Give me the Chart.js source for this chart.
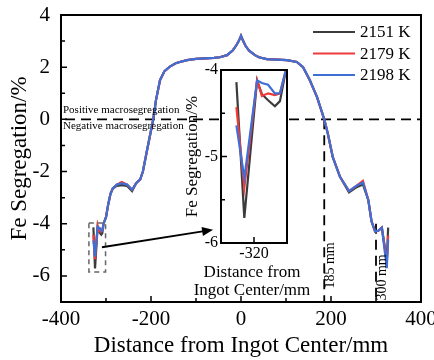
<!DOCTYPE html>
<html>
<head>
<meta charset="utf-8">
<script src="https://cdn.jsdelivr.net/npm/chart.js@4.4.1/dist/chart.umd.min.js"></script>
<style>
  body { margin: 0; background: #fff; }
  #wrap { position: relative; width: 434px; height: 360px; }
  #mainChart { position: absolute; left: 0; top: 0; }
  #insetChart { position: absolute; left: 180px; top: 60px; }
</style>
</head>
<body>
<div id="wrap">
  <canvas id="mainChart" width="434" height="360"></canvas>
  <canvas id="insetChart" width="135" height="245"></canvas>
</div>
<script>
// DATA (distance in mm, Fe segregation in %)
const distance = [-328, -324.4, -318.6, -316.4, -313.6, -310.5, -308.2, -305.5, -300, -295, -290, -285, -276, -265, -253, -242,
  -233, -224, -218, -209, -202, -195, -189, -180, -170, -158, -145, -136, -120, -100, -80, -60, -47, -31, -18, -10, -5, 0,
  5, 10, 18, 31, 40, 57, 80, 102, 124, 138, 153, 169, 185, 193, 204, 220, 235, 240, 257, 271, 283, 290, 298, 305, 313, 324, 327];

const seg2151 = [-4.14, -5.71, -4.12, -4.28, -4.35, -4.42, -4.36, -4.0, -3.75, -3.25, -2.85, -2.65, -2.55, -2.52, -2.55, -2.75,
  -2.45, -2.3, -2.0, -1.2, -0.6, 0, 0.73, 1.5, 1.85, 2.02, 2.15, 2.2, 2.27, 2.32, 2.34, 2.36, 2.38, 2.46, 2.65, 2.85, 3.0, 3.2,
  3.0, 2.82, 2.63, 2.46, 2.38, 2.31, 2.29, 2.27, 2.2, 2.0, 1.5, 0.85, 0, -0.55, -1.45, -2.2, -2.65, -2.8, -2.6, -2.5, -3.1, -3.9, -4.3, -4.27, -4.15, -5.4, -4.15];

const seg2179 = [-4.43, -5.36, -4.12, -4.30, -4.27, -4.29, -4.27, -4.0, -3.75, -3.25, -2.85, -2.65, -2.5, -2.4, -2.5, -2.7,
  -2.45, -2.3, -2.0, -1.2, -0.6, 0, 0.73, 1.5, 1.85, 2.02, 2.15, 2.2, 2.27, 2.32, 2.34, 2.36, 2.38, 2.46, 2.65, 2.85, 3.0, 3.2,
  3.0, 2.82, 2.63, 2.46, 2.38, 2.31, 2.29, 2.27, 2.2, 2.0, 1.5, 0.85, 0, -0.55, -1.45, -2.2, -2.6, -2.75, -2.54, -2.36, -3.1, -3.9, -4.3, -4.27, -4.15, -5.5, -4.45];

const seg2198 = [-4.64, -5.25, -4.12, -4.15, -4.17, -4.27, -4.27, -4.0, -3.75, -3.25, -2.85, -2.65, -2.5, -2.45, -2.5, -2.7,
  -2.45, -2.3, -2.0, -1.2, -0.6, 0, 0.73, 1.5, 1.85, 2.02, 2.15, 2.2, 2.27, 2.32, 2.34, 2.36, 2.38, 2.46, 2.65, 2.85, 3.0, 3.2,
  3.0, 2.82, 2.63, 2.46, 2.38, 2.31, 2.29, 2.27, 2.2, 2.0, 1.5, 0.85, 0, -0.55, -1.45, -2.2, -2.6, -2.75, -2.54, -2.42, -3.1, -3.9, -4.3, -4.27, -4.15, -5.7, -4.6];

const seriesLabels = ['2151 K', '2179 K', '2198 K'];
const seriesColors = ['#3c3c3c', '#f03a3a', '#3f6fd6'];

const xTicksMain = [-400, -200, 0, 200, 400];
const xMinorMain = [-300, -100, 100, 300];
const yTicksMain = [-6, -4, -2, 0, 2, 4];
const yMinorMain = [-5, -3, -1, 1, 3];

const xTicksInset = [-320];
const yTicksInset = [-6, -5, -4];
const yMinorInset = [-5.5, -4.5];

const markerX = [185, 300];
const markerTop = [0, -4.0];
const markerText = ['185 mm', '300 mm'];
const markerTextY = [-5.6, -6.06];

const insetXTitle = ['Distance from', 'Ingot Center/mm'];

const FONT = "'Liberation Serif', 'Times New Roman', serif";
Chart.defaults.font.family = FONT;
Chart.defaults.color = '#000';

function makeDatasets() {
  const all = [seg2151, seg2179, seg2198];
  return all.map((vals, i) => ({
    label: seriesLabels[i],
    data: distance.map((d, k) => ({x: d, y: vals[k]})),
    borderColor: seriesColors[i],
    borderWidth: 2.2,
    pointRadius: 0,
    tension: 0,
    order: 2 - i
  }));
}

// INWARD TICKS + FRAME
function drawFrameAndTicks(chart, xMajor, xMinor, yMajor, yMinor) {
  const {ctx, chartArea: a, scales: {x, y}} = chart;
  ctx.save();
  ctx.strokeStyle = '#000';
  ctx.lineWidth = 1.5;
  ctx.beginPath();
  xMajor.forEach(v => { const p = x.getPixelForValue(v); ctx.moveTo(p, a.bottom); ctx.lineTo(p, a.bottom - 6); });
  xMinor.forEach(v => { const p = x.getPixelForValue(v); ctx.moveTo(p, a.bottom); ctx.lineTo(p, a.bottom - 4); });
  yMajor.forEach(v => { const p = y.getPixelForValue(v); ctx.moveTo(a.left, p); ctx.lineTo(a.left + 6, p); });
  yMinor.forEach(v => { const p = y.getPixelForValue(v); ctx.moveTo(a.left, p); ctx.lineTo(a.left + 4, p); });
  ctx.stroke();
  ctx.lineWidth = 2;
  ctx.strokeRect(a.left, a.top, a.right - a.left, a.bottom - a.top);
  ctx.restore();
}

// MAIN CHART DECORATIONS
const mainDecor = {
  id: 'mainDecor',
  beforeDatasetsDraw(chart) {
    const {ctx, chartArea: a, scales: {x, y}} = chart;
    ctx.save();
    ctx.strokeStyle = '#000';
    ctx.lineWidth = 1.8;
    ctx.setLineDash([10, 6]);
    ctx.beginPath();
    ctx.moveTo(a.left + 4, y.getPixelForValue(0));
    ctx.lineTo(a.right, y.getPixelForValue(0));
    markerX.forEach((m, i) => {
      ctx.moveTo(x.getPixelForValue(m), y.getPixelForValue(markerTop[i]));
      ctx.lineTo(x.getPixelForValue(m), a.bottom);
    });
    ctx.stroke();
    ctx.restore();
  },
  afterDatasetsDraw(chart) {
    const {ctx, chartArea: a, scales: {x, y}} = chart;
    drawFrameAndTicks(chart, xTicksMain, xMinorMain, yTicksMain, yMinorMain);
    ctx.save();
    ctx.fillStyle = '#000';

    // positive / negative labels
    const y0 = y.getPixelForValue(0);
    ctx.font = '11px ' + FONT;
    ctx.textAlign = 'left';
    ctx.textBaseline = 'alphabetic';
    ctx.fillText('Positive macrosegregation', a.left + 2, y0 - 6.5);
    ctx.fillText('Negative macrosegregation', a.left + 2, y0 + 10);

    // rotated marker labels
    ctx.font = '14px ' + FONT;
    ctx.textAlign = 'center';
    ctx.textBaseline = 'middle';
    markerX.forEach((m, i) => {
      ctx.save();
      ctx.translate(x.getPixelForValue(m) + 6.5, y.getPixelForValue(markerTextY[i]));
      ctx.rotate(-Math.PI / 2);
      ctx.fillText(markerText[i], 0, 0);
      ctx.restore();
    });

    // zoom box
    ctx.strokeStyle = '#666';
    ctx.lineWidth = 1.5;
    ctx.setLineDash([5, 4]);
    const bx1 = x.getPixelForValue(-338), bx2 = x.getPixelForValue(-301);
    const by1 = y.getPixelForValue(-3.97), by2 = y.getPixelForValue(-5.85);
    ctx.strokeRect(bx1, by1, bx2 - bx1, by2 - by1);
    ctx.setLineDash([]);

    // arrow
    const ax1 = x.getPixelForValue(-309), ay1 = y.getPixelForValue(-4.9);
    const ax2 = x.getPixelForValue(-62), ay2 = y.getPixelForValue(-4.23);
    const ang = Math.atan2(ay2 - ay1, ax2 - ax1);
    ctx.strokeStyle = '#000';
    ctx.lineWidth = 2;
    ctx.beginPath();
    ctx.moveTo(ax1, ay1);
    ctx.lineTo(ax2 - 9 * Math.cos(ang), ay2 - 9 * Math.sin(ang));
    ctx.stroke();
    ctx.beginPath();
    ctx.moveTo(ax2, ay2);
    ctx.lineTo(ax2 - 11 * Math.cos(ang) + 4.5 * Math.sin(ang), ay2 - 11 * Math.sin(ang) - 4.5 * Math.cos(ang));
    ctx.lineTo(ax2 - 11 * Math.cos(ang) - 4.5 * Math.sin(ang), ay2 - 11 * Math.sin(ang) + 4.5 * Math.cos(ang));
    ctx.closePath();
    ctx.fill();

    // legend
    ctx.font = '17px ' + FONT;
    ctx.textAlign = 'left';
    ctx.textBaseline = 'middle';
    chart.data.datasets.forEach((ds, i) => {
      const ry = a.top + 17 + i * 21.5;
      ctx.strokeStyle = ds.borderColor;
      ctx.lineWidth = 2;
      ctx.beginPath();
      ctx.moveTo(a.right - 108, ry);
      ctx.lineTo(a.right - 66, ry);
      ctx.stroke();
      ctx.fillText(ds.label, a.right - 61, ry + 1);
    });
    ctx.restore();
  }
};

// INSET DECORATIONS
const insetDecor = {
  id: 'insetDecor',
  beforeDraw(chart) {
    const {ctx, chartArea: a} = chart;
    ctx.save();
    ctx.fillStyle = '#fff';
    ctx.fillRect(a.left, a.top, a.right - a.left, a.bottom - a.top);
    ctx.restore();
  },
  afterDatasetsDraw(chart) {
    const {ctx, chartArea: a} = chart;
    drawFrameAndTicks(chart, xTicksInset, [], yTicksInset, yMinorInset);
    ctx.save();
    ctx.fillStyle = '#000';
    ctx.font = '17px ' + FONT;
    ctx.textAlign = 'center';
    ctx.textBaseline = 'alphabetic';
    const cx = (a.left + a.right) / 2 - 2;
    insetXTitle.forEach((t, i) => ctx.fillText(t, cx, a.bottom + 34 + i * 18));
    ctx.restore();
  }
};

// MAIN CHART
new Chart(document.getElementById('mainChart'), {
  type: 'line',
  data: {datasets: makeDatasets()},
  options: {
    responsive: false,
    animation: false,
    devicePixelRatio: 1,
    layout: {padding: {top: 15, right: 13, bottom: 0, left: 0}},
    plugins: {legend: {display: false}, tooltip: {enabled: false}},
    scales: {
      x: {
        type: 'linear', min: -400, max: 400,
        grid: {display: false, drawTicks: false},
        border: {display: false},
        afterBuildTicks: s => { s.ticks = xTicksMain.map(v => ({value: v})); },
        afterFit: s => { s.height = 58; s.paddingLeft = 0; s.paddingRight = 0; },
        ticks: {font: {size: 21}, padding: 5, maxRotation: 0, autoSkip: false, callback: v => String(v)},
        title: {display: true, text: 'Distance from Ingot Center/mm', font: {size: 23, lineHeight: 1}, padding: {top: 0, bottom: 2.5}}
      },
      y: {
        type: 'linear', min: -7, max: 4,
        grid: {display: false, drawTicks: false},
        border: {display: false},
        afterBuildTicks: s => { s.ticks = yTicksMain.map(v => ({value: v})); },
        afterFit: s => { s.width = 61; s.paddingTop = 0; s.paddingBottom = 0; },
        ticks: {font: {size: 21}, padding: 11, callback: v => String(v)},
        title: {display: true, text: 'Fe Segregation/%', font: {size: 23, lineHeight: 1}, padding: {top: 8, bottom: 0}}
      }
    }
  },
  plugins: [mainDecor]
});

// INSET CHART
new Chart(document.getElementById('insetChart'), {
  type: 'line',
  data: {datasets: makeDatasets()},
  options: {
    responsive: false,
    animation: false,
    devicePixelRatio: 1,
    layout: {padding: {top: 10, right: 28, bottom: 0, left: 0}},
    plugins: {legend: {display: false}, tooltip: {enabled: false}},
    scales: {
      x: {
        type: 'linear', min: -335, max: -305,
        grid: {display: false, drawTicks: false},
        border: {display: false},
        afterBuildTicks: s => { s.ticks = xTicksInset.map(v => ({value: v})); },
        afterFit: s => { s.height = 62; s.paddingLeft = 0; s.paddingRight = 0; },
        ticks: {font: {size: 16, lineHeight: 1}, padding: 2.5, maxRotation: 0, autoSkip: false, callback: v => String(v)}
      },
      y: {
        type: 'linear', min: -6, max: -4,
        grid: {display: false, drawTicks: false},
        border: {display: false},
        afterBuildTicks: s => { s.ticks = yTicksInset.map(v => ({value: v})); },
        afterFit: s => { s.width = 41; s.paddingTop = 0; s.paddingBottom = 0; },
        ticks: {font: {size: 16}, padding: 3, callback: v => String(v)},
        title: {display: true, text: 'Fe Segregation/%', font: {size: 17, lineHeight: 1}, padding: {top: 4.5, bottom: 0}}
      }
    }
  },
  plugins: [insetDecor]
});
</script>
</body>
</html>
